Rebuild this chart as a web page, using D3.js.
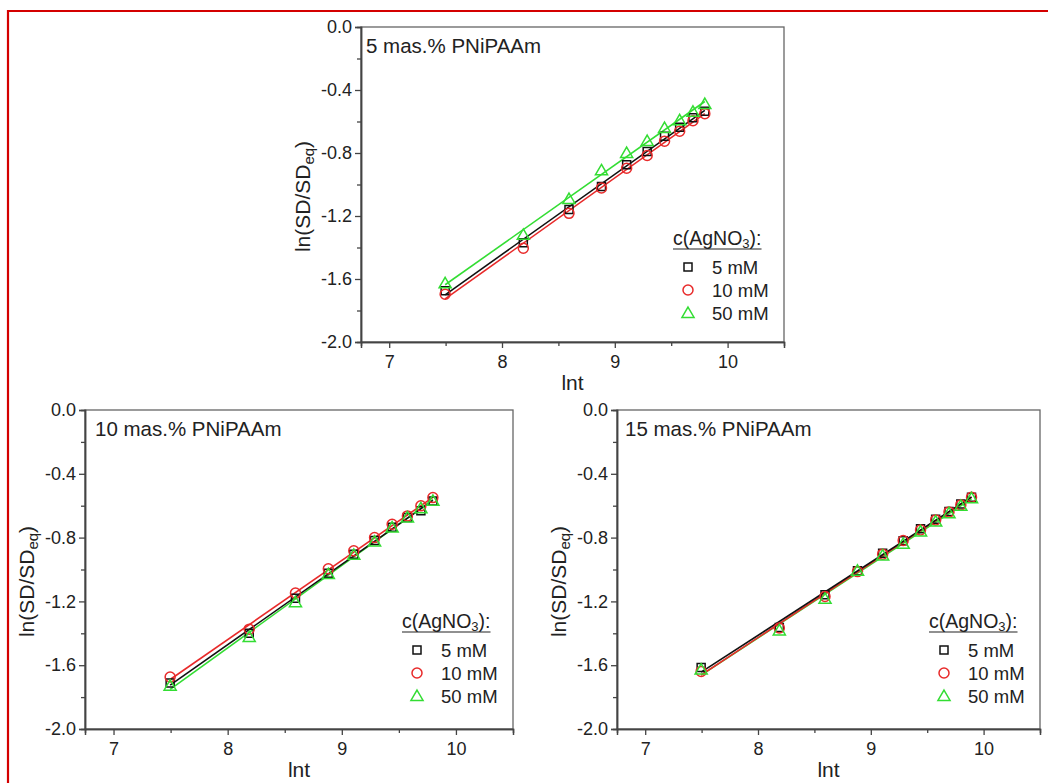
<!DOCTYPE html>
<html>
<head>
<meta charset="utf-8">
<script src="https://cdn.jsdelivr.net/npm/d3@7"></script>
<style>
  html, body { margin: 0; padding: 0; background: #fff; }
  svg { display: block; font-family: "Liberation Sans", Arial, sans-serif; }
</style>
</head>
<body>
<svg id="chart" width="1048" height="783"></svg>
<script>
// ---------------- DATA ----------------
const seriesNames = ["5 mM", "10 mM", "50 mM"];
const panelTitles = ["5 mas.% PNiPAAm", "10 mas.% PNiPAAm", "15 mas.% PNiPAAm"];
const xTicks = [7, 8, 9, 10];
const xTickLabels = ["7", "8", "9", "10"];
const yTicks = [0, -0.4, -0.8, -1.2, -1.6, -2.0];
const yTickLabels = ["0.0", "-0.4", "-0.8", "-1.2", "-1.6", "-2.0"];

// ln t values
const lnt10 = [7.496, 8.189, 8.594, 8.882, 9.105, 9.287, 9.441, 9.575, 9.693, 9.798];
const lnt11 = [7.496, 8.189, 8.594, 8.882, 9.105, 9.287, 9.441, 9.575, 9.693, 9.798, 9.893];

// 5 mas.% PNiPAAm
const p5_5mM  = [-1.675, -1.370, -1.158, -1.012, -0.874, -0.790, -0.694, -0.637, -0.576, -0.535];
const p5_10mM = [-1.697, -1.405, -1.183, -1.022, -0.897, -0.816, -0.725, -0.662, -0.595, -0.550];
const p5_50mM = [-1.627, -1.320, -1.092, -0.910, -0.800, -0.724, -0.641, -0.592, -0.538, -0.489];

// 10 mas.% PNiPAAm
const p10_5mM  = [-1.712, -1.399, -1.180, -1.023, -0.904, -0.818, -0.735, -0.674, -0.632, -0.570];
const p10_10mM = [-1.674, -1.374, -1.148, -0.996, -0.883, -0.800, -0.716, -0.664, -0.601, -0.549];
const p10_50mM = [-1.729, -1.424, -1.205, -1.029, -0.908, -0.825, -0.737, -0.674, -0.616, -0.570];

// 15 mas.% PNiPAAm
const p15_5mM  = [-1.614, -1.363, -1.159, -1.008, -0.898, -0.820, -0.745, -0.685, -0.637, -0.589, -0.547];
const p15_10mM = [-1.639, -1.367, -1.169, -1.013, -0.904, -0.818, -0.752, -0.689, -0.639, -0.595, -0.547];
const p15_50mM = [-1.628, -1.382, -1.184, -1.008, -0.912, -0.839, -0.762, -0.699, -0.647, -0.601, -0.553];

const panelData = [
  { x: lnt10, ys: [p5_5mM, p5_10mM, p5_50mM] },
  { x: lnt10, ys: [p10_5mM, p10_10mM, p10_50mM] },
  { x: lnt11, ys: [p15_5mM, p15_10mM, p15_50mM] }
];

// ---------------- STYLE / LAYOUT ----------------
const colors = ["#111111", "#e82a2a", "#33dd33"];
const shapes = ["square", "circle", "triangle"];
const layout = [
  { left: 361, top: 27,  right: 784,  bottom: 342, titleDx: 5 },
  { left: 85,  top: 410, right: 513,  bottom: 729, titleDx: 10 },
  { left: 617, top: 410, right: 1040, bottom: 729, titleDx: 8 }
];
const xDomain = [6.75, 10.5];
const yDomain = [-2.0, 0.0];

const svg = d3.select("#chart");

// red outer frame
svg.append("path")
  .attr("d", "M8,783 L8,11 L1048,11")
  .attr("fill", "none").attr("stroke", "#d40000").attr("stroke-width", 2.2);

function markerPath(shape, size) {
  const s = size / 2;
  if (shape === "square") return `M${-s},${-s}H${s}V${s}H${-s}Z`;
  if (shape === "circle") return d3.arc()({innerRadius: 0, outerRadius: s, startAngle: 0, endAngle: 2 * Math.PI});
  const h = size * 0.9;
  return `M0,${-h * 0.6}L${s * 1.1},${h * 0.45}L${-s * 1.1},${h * 0.45}Z`;
}
const markerSize = { square: 8, circle: 10, triangle: 11 };

function linFit(xs, ys) {
  const mx = d3.mean(xs), my = d3.mean(ys);
  let num = 0, den = 0;
  xs.forEach((x, i) => { num += (x - mx) * (ys[i] - my); den += (x - mx) * (x - mx); });
  const b = num / den;
  return { a: my - b * mx, b };
}

panelData.forEach((pd, pi) => {
  const L = layout[pi];
  const g = svg.append("g");
  const x = d3.scaleLinear().domain(xDomain).range([L.left, L.right]);
  const y = d3.scaleLinear().domain(yDomain).range([L.bottom, L.top]);

  // frame (top/right)
  g.append("rect")
    .attr("x", L.left).attr("y", L.top)
    .attr("width", L.right - L.left).attr("height", L.bottom - L.top)
    .attr("fill", "none").attr("stroke", "#666").attr("stroke-width", 1.3);

  // axes
  const xAxis = d3.axisBottom(x).tickValues(xTicks).tickSize(6)
    .tickFormat((d, i) => xTickLabels[i]);
  const xMinor = d3.axisBottom(x).tickValues([7.5, 8.5, 9.5]).tickSize(4).tickFormat("");
  const yAxis = d3.axisLeft(y).tickValues(yTicks).tickSize(6)
    .tickFormat((d, i) => yTickLabels[i]);
  const yMinor = d3.axisLeft(y).tickValues([-0.2, -0.6, -1.0, -1.4, -1.8]).tickSize(4).tickFormat("");

  const styleAxis = sel => {
    sel.select(".domain").attr("stroke", "#444").attr("stroke-width", 1.5);
    sel.selectAll(".tick line").attr("stroke", "#444").attr("stroke-width", 1.3);
    sel.selectAll(".tick text").attr("fill", "#222")
      .style("font-size", "18px").style("font-family", "'Liberation Sans', Arial, sans-serif");
  };

  g.append("g").attr("transform", `translate(0,${L.bottom})`).call(xMinor).call(styleAxis);
  g.append("g").attr("transform", `translate(0,${L.bottom})`).call(xAxis).call(styleAxis)
    .selectAll(".tick text").attr("dy", "0.95em");
  g.append("g").attr("transform", `translate(0,0)`).attr("transform", `translate(${L.left},0)`).call(yMinor).call(styleAxis);
  g.append("g").attr("transform", `translate(${L.left},0)`).call(yAxis).call(styleAxis)
    .selectAll(".tick text").attr("x", -9);

  // axis titles
  g.append("text")
    .attr("x", (L.left + L.right) / 2).attr("y", L.bottom + 48)
    .attr("text-anchor", "middle").attr("fill", "#222")
    .style("font-size", "21px").text("lnt");

  const yt = g.append("text")
    .attr("transform", `translate(${L.left - 51},${(L.top + L.bottom) / 2 + 12}) rotate(-90)`)
    .attr("text-anchor", "middle").attr("fill", "#222")
    .style("font-size", "21px");
  yt.append("tspan").text("ln(SD/SD");
  yt.append("tspan").attr("dy", 4).style("font-size", "15px").text("eq");
  yt.append("tspan").attr("dy", -4).text(")");

  // panel title
  g.append("text")
    .attr("x", L.left + L.titleDx).attr("y", L.top + 26)
    .attr("fill", "#222").style("font-size", "20.5px")
    .text(panelTitles[pi]);

  // fit lines (drawn green, red, black so black sits on top)
  [2, 1, 0].forEach(si => {
    const f = linFit(pd.x, pd.ys[si]);
    const x0 = pd.x[0], x1 = pd.x[pd.x.length - 1];
    g.append("line")
      .attr("x1", x(x0)).attr("y1", y(f.a + f.b * x0))
      .attr("x2", x(x1)).attr("y2", y(f.a + f.b * x1))
      .attr("stroke", colors[si]).attr("stroke-width", 1.6);
  });

  // markers (black, red, green so green sits on top)
  [0, 1, 2].forEach(si => {
    g.append("g").selectAll("path")
      .data(pd.x.map((xv, i) => [xv, pd.ys[si][i]]))
      .join("path")
      .attr("transform", d => `translate(${x(d[0])},${y(d[1])})`)
      .attr("d", markerPath(shapes[si], markerSize[shapes[si]]))
      .attr("fill", "none").attr("stroke", colors[si]).attr("stroke-width", 1.5);
  });

  // legend
  const lgx = L.right - 111, lgy = L.top + 211;
  const head = g.append("text")
    .attr("x", lgx).attr("y", lgy + 7)
    .attr("fill", "#222").style("font-size", "19.5px");
  head.append("tspan").text("c(AgNO");
  head.append("tspan").attr("dy", 3).style("font-size", "13px").text("3");
  head.append("tspan").attr("dy", -3).text("):");
  const hw = head.node().getComputedTextLength();
  g.append("line")
    .attr("x1", lgx).attr("x2", lgx + hw)
    .attr("y1", lgy + 11).attr("y2", lgy + 11)
    .attr("stroke", "#222").attr("stroke-width", 1.2);

  seriesNames.forEach((name, si) => {
    const yy = lgy + 29 + si * 23;
    g.append("path")
      .attr("transform", `translate(${L.right - 96},${yy})`)
      .attr("d", markerPath(shapes[si], markerSize[shapes[si]]))
      .attr("fill", "none").attr("stroke", colors[si]).attr("stroke-width", 1.5);
    g.append("text")
      .attr("x", L.right - 72).attr("y", yy + 6.5)
      .attr("fill", "#222").style("font-size", "18.5px")
      .text(name);
  });
});
</script>
</body>
</html>
